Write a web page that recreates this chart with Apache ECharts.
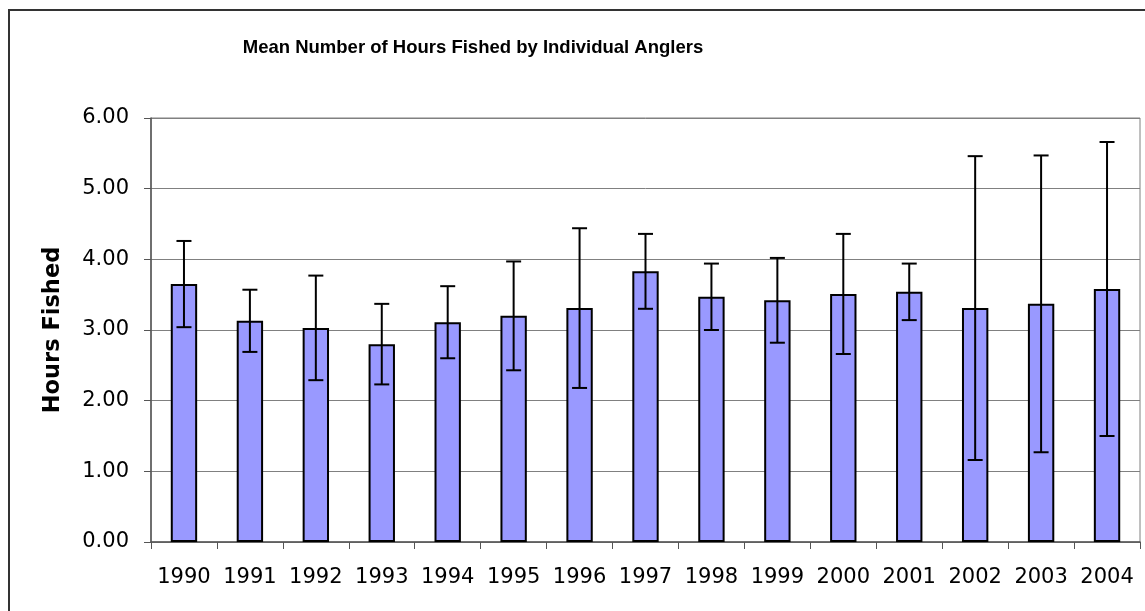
<!DOCTYPE html>
<html>
<head>
<meta charset="utf-8">
<script src="https://cdn.jsdelivr.net/npm/echarts@6/dist/echarts.min.js"></script>
<style>
  html, body { margin: 0; padding: 0; background: #fff; }
  #main { width: 1145px; height: 611px; }
</style>
</head>
<body>
<div id="main"></div>
<script>
  // data
  const years = ['1990', '1991', '1992', '1993', '1994', '1995', '1996', '1997',
                 '1998', '1999', '2000', '2001', '2002', '2003', '2004'];
  const meanHours = [3.65, 3.13, 3.03, 2.80, 3.11, 3.20, 3.31, 3.83,
                     3.47, 3.42, 3.51, 3.54, 3.31, 3.37, 3.58];
  const errHours = [0.61, 0.44, 0.74, 0.57, 0.51, 0.77, 1.13, 0.53,
                    0.47, 0.60, 0.85, 0.40, 2.15, 2.10, 2.08];
  const yTicks = [0, 1, 2, 3, 4, 5, 6];

  // error bar data: [category index, low, high]
  const errData = years.map((y, i) => [i, meanHours[i] - errHours[i], meanHours[i] + errHours[i]]);

  const myChart = echarts.init(document.getElementById('main'));

  const option = {
    animation: false,
    backgroundColor: '#fff',
    title: {
      text: 'Mean Number of Hours Fished by Individual Anglers',
      left: 468,
      top: 33,
      textAlign: 'center',
      textStyle: {
        fontFamily: '"Liberation Sans", Arial, sans-serif',
        fontWeight: 'bold',
        fontSize: 18.5,
        color: '#000'
      }
    },
    graphic: [
      {
        type: 'rect',
        shape: { x: 9, y: 10, width: 1160, height: 640 },
        style: { fill: 'none', stroke: '#333', lineWidth: 2 },
        silent: true,
        z: 100
      }
    ],
    grid: {
      left: 151,
      right: 5,
      top: 118,
      bottom: 69,
      show: true,
      borderColor: '#808080',
      borderWidth: 1
    },
    xAxis: {
      type: 'category',
      data: years,
      axisLine: { lineStyle: { color: '#555', width: 1.5 } },
      axisTick: { show: true, length: 7, interval: 0, alignWithLabel: false, lineStyle: { color: '#555' } },
      axisLabel: {
        interval: 0,
        hideOverlap: false,
        margin: 25,
        fontFamily: '"DejaVu Sans", sans-serif',
        fontSize: 21,
        color: '#000'
      }
    },
    yAxis: {
      type: 'value',
      min: yTicks[0],
      max: yTicks[yTicks.length - 1],
      interval: 1,
      name: 'Hours Fished',
      nameLocation: 'middle',
      nameGap: 86,
      nameTextStyle: {
        fontFamily: '"DejaVu Sans", sans-serif',
        fontWeight: 'bold',
        fontSize: 22.5,
        color: '#000'
      },
      axisLine: { show: true, lineStyle: { color: '#555', width: 1.5 } },
      axisTick: { show: true, length: 7, lineStyle: { color: '#555' } },
      axisLabel: {
        margin: 22,
        fontFamily: '"DejaVu Sans", sans-serif',
        fontSize: 21,
        color: '#000',
        formatter: v => v.toFixed(2)
      },
      splitLine: { show: true, lineStyle: { color: '#808080', width: 1 } }
    },
    series: [
      {
        type: 'bar',
        data: meanHours,
        barWidth: '40%',
        itemStyle: {
          color: '#9999ff',
          borderColor: '#000',
          borderWidth: 2
        },
        z: 2
      },
      {
        type: 'custom',
        data: errData,
        z: 5,
        renderItem: function (params, api) {
          const idx = api.value(0);
          const lo = api.coord([idx, api.value(1)]);
          const hi = api.coord([idx, api.value(2)]);
          const half = 7.5;
          const style = { stroke: '#000', lineWidth: 2 };
          return {
            type: 'group',
            children: [
              { type: 'line', shape: { x1: hi[0], y1: hi[1], x2: lo[0], y2: lo[1] }, style: style },
              { type: 'line', shape: { x1: hi[0] - half, y1: hi[1], x2: hi[0] + half, y2: hi[1] }, style: style },
              { type: 'line', shape: { x1: lo[0] - half, y1: lo[1], x2: lo[0] + half, y2: lo[1] }, style: style }
            ]
          };
        }
      }
    ]
  };

  myChart.setOption(option);
</script>
</body>
</html>
